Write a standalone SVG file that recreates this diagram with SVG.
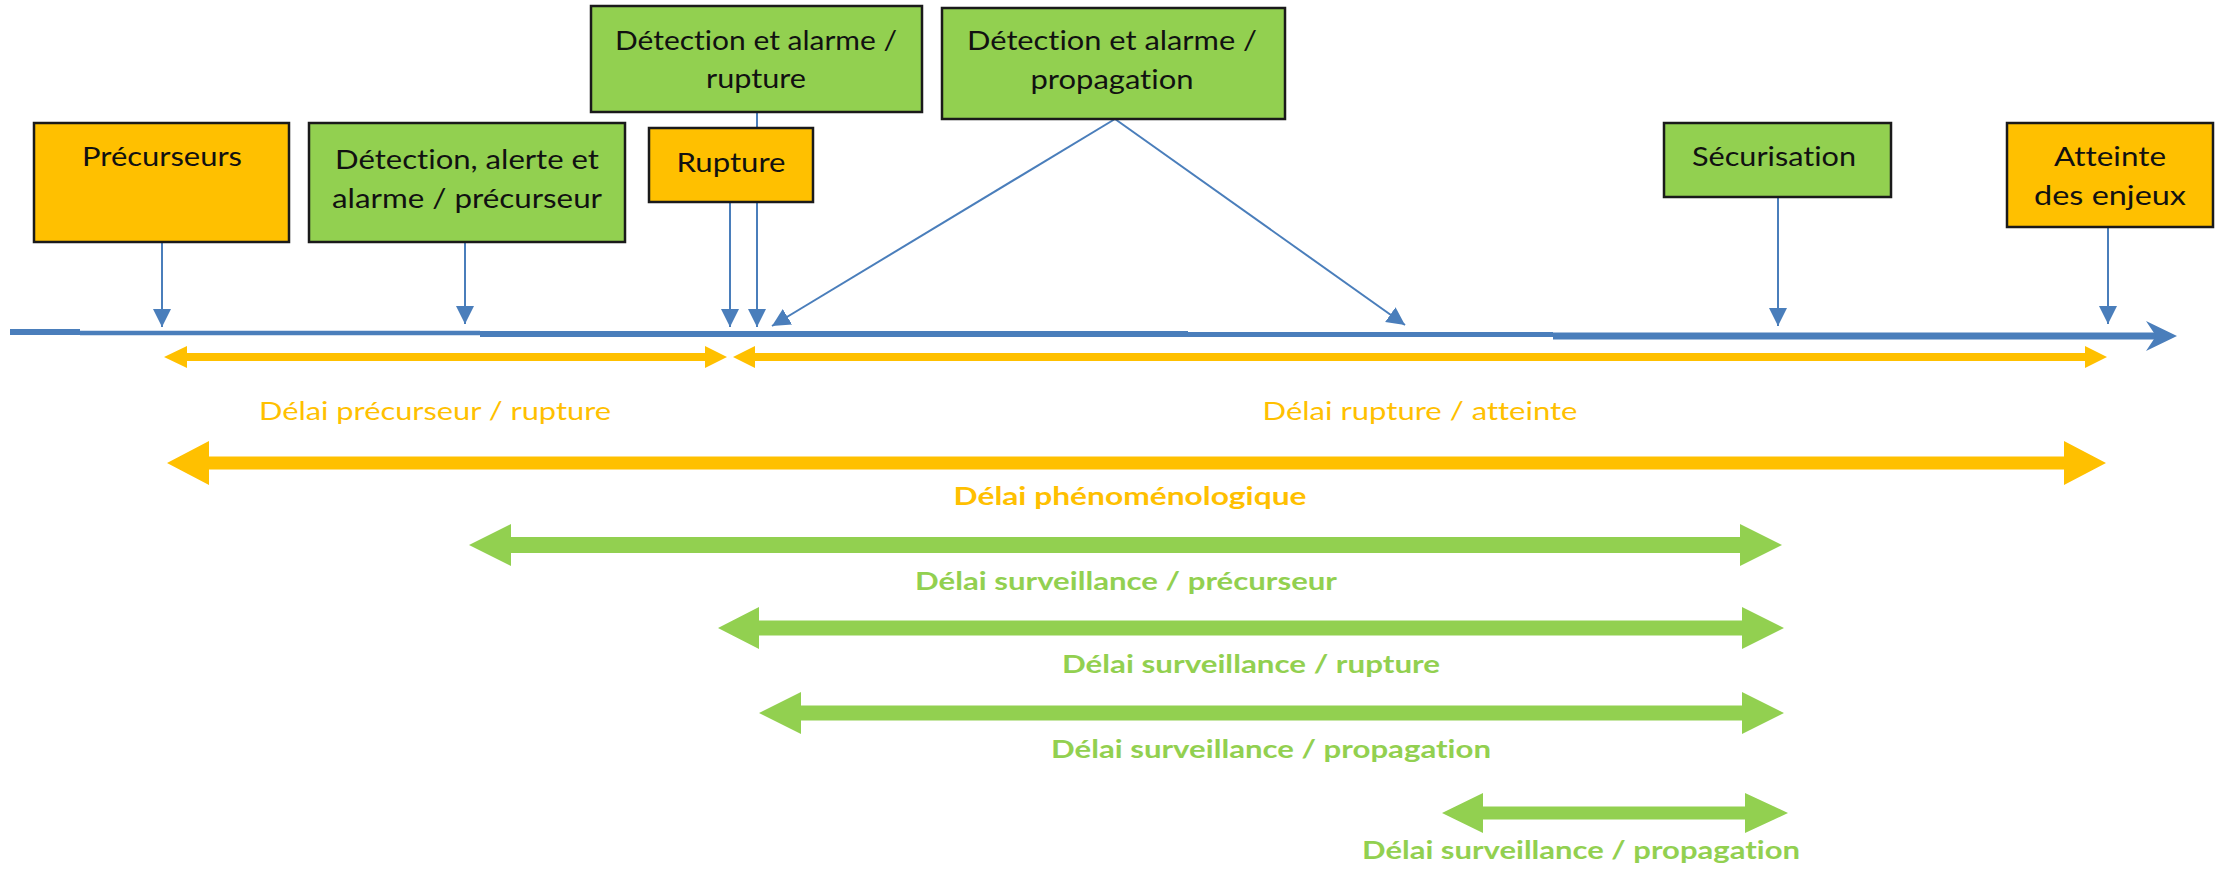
<svg xmlns="http://www.w3.org/2000/svg" width="2224" height="869" viewBox="0 0 2224 869">
<style>
.box{stroke:#1a1a1a;stroke-width:2.5}
.or{fill:#FFC000}
.gr{fill:#92D050}
.bt{font-family:Lato,"Liberation Sans",sans-serif;font-size:26.5px;fill:#111;text-anchor:middle;font-variant-ligatures:none}
.lb{font-family:Lato,"Liberation Sans",sans-serif;font-size:25px;text-anchor:middle;font-variant-ligatures:none}
.bold{font-weight:bold}
.lo{fill:#FFC000}
.lg{fill:#92D050}
.conn{stroke:#4A7EBB;stroke-width:2;fill:none}
.tl{stroke:#4A7EBB;fill:none}
</style>
<defs>
<marker id="ah" markerUnits="userSpaceOnUse" markerWidth="20" markerHeight="20" viewBox="0 0 20 20" refX="18" refY="10" orient="auto">
<path d="M0,1 L18,10 L0,19 Z" fill="#4A7EBB"/>
</marker>
</defs>
<rect width="2224" height="869" fill="#fff"/>

<g id="timeline">
<line class="tl" x1="10" y1="332" x2="80" y2="332" stroke-width="6"/>
<line class="tl" x1="80" y1="333" x2="480" y2="333" stroke-width="4.5"/>
<line class="tl" x1="480" y1="334" x2="1188" y2="334" stroke-width="6"/>
<line class="tl" x1="1188" y1="334.5" x2="1553" y2="334.5" stroke-width="5"/>
<line class="tl" x1="1553" y1="336" x2="2160" y2="336" stroke-width="7"/>
<path d="M2146,321 L2177,336 L2146,351 L2156,336 Z" fill="#4A7EBB"/>
</g>

<g id="connectors">
<line class="conn" x1="162" y1="242" x2="162" y2="327" marker-end="url(#ah)"/>
<line class="conn" x1="465" y1="242" x2="465" y2="324" marker-end="url(#ah)"/>
<line class="conn" x1="730" y1="202" x2="730" y2="327" marker-end="url(#ah)"/>
<line class="conn" x1="757" y1="112" x2="757" y2="327" marker-end="url(#ah)"/>
<line class="conn" x1="1115" y1="119" x2="772" y2="326" stroke-width="1.6" marker-end="url(#ah)"/>
<line class="conn" x1="1115" y1="119" x2="1405" y2="325" stroke-width="1.6" marker-end="url(#ah)"/>
<line class="conn" x1="1778" y1="197" x2="1778" y2="326" marker-end="url(#ah)"/>
<line class="conn" x1="2108" y1="227" x2="2108" y2="324" marker-end="url(#ah)"/>
</g>

<g id="n-precurseurs">
<rect class="box or" x="34" y="123" width="255" height="119"/>
<text class="bt" x="162" y="166" textLength="160" lengthAdjust="spacingAndGlyphs">Précurseurs</text>
</g>
<g id="n-detection-precurseur">
<rect class="box gr" x="309" y="123" width="316" height="119"/>
<text class="bt" x="467" y="169" textLength="264" lengthAdjust="spacingAndGlyphs">Détection, alerte et</text>
<text class="bt" x="467" y="208" textLength="270" lengthAdjust="spacingAndGlyphs">alarme / précurseur</text>
</g>
<g id="n-detection-rupture">
<rect class="box gr" x="591" y="6" width="331" height="106"/>
<text class="bt" x="756" y="50" textLength="282" lengthAdjust="spacingAndGlyphs">Détection et alarme /</text>
<text class="bt" x="756" y="88" textLength="100" lengthAdjust="spacingAndGlyphs">rupture</text>
</g>
<g id="n-rupture">
<rect class="box or" x="649" y="128" width="164" height="74"/>
<text class="bt" x="731" y="172" textLength="109" lengthAdjust="spacingAndGlyphs">Rupture</text>
</g>
<g id="n-detection-propagation">
<rect class="box gr" x="942" y="8" width="343" height="111"/>
<text class="bt" x="1112" y="50" textLength="290" lengthAdjust="spacingAndGlyphs">Détection et alarme /</text>
<text class="bt" x="1112" y="89" textLength="163" lengthAdjust="spacingAndGlyphs">propagation</text>
</g>
<g id="n-securisation">
<rect class="box gr" x="1664" y="123" width="227" height="74"/>
<text class="bt" x="1774" y="166" textLength="164" lengthAdjust="spacingAndGlyphs">Sécurisation</text>
</g>
<g id="n-atteinte">
<rect class="box or" x="2007" y="123" width="206" height="104"/>
<text class="bt" x="2110" y="166" textLength="112" lengthAdjust="spacingAndGlyphs">Atteinte</text>
<text class="bt" x="2110" y="205" textLength="152" lengthAdjust="spacingAndGlyphs">des enjeux</text>
</g>

<g id="delais">
<path class="or" d="M164,357 L187,346 L187,353 L705,353 L705,346 L727,357 L705,368 L705,361 L187,361 L187,368 Z"/>
<path class="or" d="M733,357 L755,346 L755,353 L2085,353 L2085,346 L2107,357 L2085,368 L2085,361 L755,361 L755,368 Z"/>
<path class="or" d="M167,463 L209,441 L209,456.5 L2064,456.5 L2064,441 L2106,463 L2064,485 L2064,469.5 L209,469.5 L209,485 Z"/>
<path class="gr" d="M469,545 L511,524 L511,537 L1740,537 L1740,524 L1782,545 L1740,566 L1740,553 L511,553 L511,566 Z"/>
<path class="gr" d="M718,628 L759,607 L759,620.5 L1742,620.5 L1742,607 L1784,628 L1742,649 L1742,635.5 L759,635.5 L759,649 Z"/>
<path class="gr" d="M759,713 L801,692 L801,705.5 L1742,705.5 L1742,692 L1784,713 L1742,734 L1742,720.5 L801,720.5 L801,734 Z"/>
<path class="gr" d="M1442,813 L1483,793 L1483,806.5 L1745,806.5 L1745,793 L1788,813 L1745,833 L1745,819.5 L1483,819.5 L1483,833 Z"/>
</g>

<g id="labels">
<text class="lb lo" x="435" y="420" textLength="352" lengthAdjust="spacingAndGlyphs">Délai précurseur / rupture</text>
<text class="lb lo" x="1420" y="420" textLength="315" lengthAdjust="spacingAndGlyphs">Délai rupture / atteinte</text>
<text class="lb lo bold" x="1130" y="505" textLength="353" lengthAdjust="spacingAndGlyphs">Délai phénoménologique</text>
<text class="lb lg bold" x="1126" y="590" textLength="422" lengthAdjust="spacingAndGlyphs">Délai surveillance / précurseur</text>
<text class="lb lg bold" x="1251" y="673" textLength="378" lengthAdjust="spacingAndGlyphs">Délai surveillance / rupture</text>
<text class="lb lg bold" x="1271" y="758" textLength="440" lengthAdjust="spacingAndGlyphs">Délai surveillance / propagation</text>
<text class="lb lg bold" x="1581" y="859" textLength="438" lengthAdjust="spacingAndGlyphs">Délai surveillance / propagation</text>
</g>
</svg>
